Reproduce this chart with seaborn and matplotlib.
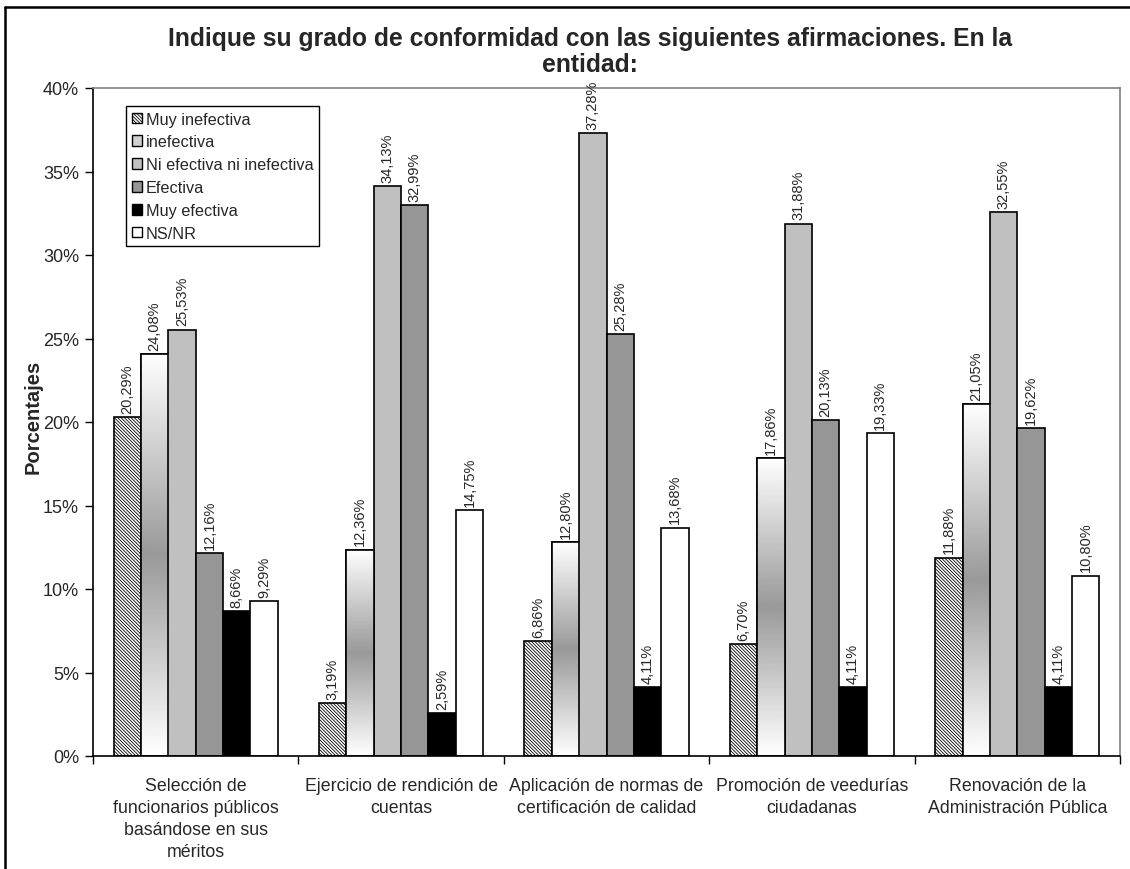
import numpy as np
import pandas as pd
import seaborn as sns
import matplotlib.pyplot as plt
from matplotlib.patches import Patch, Rectangle
from matplotlib.lines import Line2D

# data
categories = [
    "Selección de\nfuncionarios públicos\nbasándose en sus\nméritos",
    "Ejercicio de rendición de\ncuentas",
    "Aplicación de normas de\ncertificación de calidad",
    "Promoción de veedurías\nciudadanas",
    "Renovación de la\nAdministración Pública",
]
series = ["Muy inefectiva", "inefectiva", "Ni efectiva ni inefectiva",
          "Efectiva", "Muy efectiva", "NS/NR"]
muy_inefectiva = [20.29, 3.19, 6.86, 6.70, 11.88]
inefectiva = [24.08, 12.36, 12.80, 17.86, 21.05]
ni_ni = [25.53, 34.13, 37.28, 31.88, 32.55]
efectiva = [12.16, 32.99, 25.28, 20.13, 19.62]
muy_efectiva = [8.66, 2.59, 4.11, 4.11, 4.11]
ns_nr = [9.29, 14.75, 13.68, 19.33, 10.80]
title = "Indique su grado de conformidad con las siguientes afirmaciones. En la\nentidad:"
yticks = [0, 5, 10, 15, 20, 25, 30, 35, 40]

colors = ["#e0e0e0", "#ffffff", "#c0c0c0", "#969696", "#000000", "#ffffff"]
HATCH = "\\" * 10

vals = [muy_inefectiva, inefectiva, ni_ni, efectiva, muy_efectiva, ns_nr]
df = pd.DataFrame({
    "cat": list(range(len(categories))) * len(series),
    "serie": np.repeat(series, len(categories)),
    "valor": np.concatenate(vals),
})

sns.set_style("white")
plt.rcParams['font.family'] = ['Liberation Sans', 'DejaVu Sans']
plt.rcParams['hatch.linewidth'] = 0.6

fig = plt.figure(figsize=(11.3, 8.7), dpi=100)
ax = fig.add_axes([93/1130, 1-757/870, (1120-93)/1130, (757-89)/870])

sns.barplot(data=df, x="cat", y="valor", hue="serie", hue_order=series,
            palette=colors, saturation=1, width=0.8, edgecolor="black",
            linewidth=1.2, legend=False, ax=ax)

# hatch for first series
for bar in ax.containers[0]:
    bar.set_facecolor("white")
    bar.set_hatch(HATCH)

# vertical gradient white - gray - white for "inefectiva"
grad = np.abs(np.linspace(-1, 1, 256))[:, None]
for bar in ax.containers[1]:
    x0, y0 = bar.get_x(), bar.get_y()
    w, h = bar.get_width(), bar.get_height()
    im = ax.imshow(grad, cmap="gray", vmin=-1.5, vmax=1.0, aspect="auto",
                   extent=(x0, x0 + w, y0, y0 + h), origin="lower",
                   zorder=bar.get_zorder() + 0.1, interpolation="bilinear")
    im.set_clip_path(bar)
    ax.add_patch(Rectangle((x0, y0), w, h, fill=False, edgecolor="black",
                           linewidth=1.2, zorder=bar.get_zorder() + 0.2))
ax.set_ylim(0, 40)
ax.set_xlim(-0.5, len(categories) - 0.5)

for cont in ax.containers:
    labs = [f"{v:.2f}%".replace(".", ",") for v in cont.datavalues]
    ax.bar_label(cont, labels=labs, rotation=90, padding=3, fontsize=10.5)

ax.set_yticks(yticks)
ax.set_yticklabels([f"{t}%" for t in yticks], fontsize=13)
ax.set_xticks(range(len(categories)))
ax.set_xticklabels(categories, fontsize=12.8)
for t in ax.get_xticklabels():
    t.set_linespacing(1.4)
ax.set_xticks(np.arange(-0.5, len(categories)), minor=True)
ax.tick_params(axis="x", which="major", length=0, pad=15)
ax.tick_params(axis="x", which="minor", length=6, width=1, direction="out",
               color="black", bottom=True)
ax.tick_params(axis="y", length=6, width=1, direction="out", color="black",
               left=True, pad=4)
ax.set_xlabel("")
ax.set_ylabel("")

for s in ["left", "bottom"]:
    ax.spines[s].set_color("black")
    ax.spines[s].set_linewidth(1.2)
for s in ["top", "right"]:
    ax.spines[s].set_color("#808080")
    ax.spines[s].set_linewidth(1.2)

handles = [Patch(facecolor="white", edgecolor="black", hatch=HATCH),
           Patch(facecolor="#d0d0d0", edgecolor="black"),
           Patch(facecolor=colors[2], edgecolor="black"),
           Patch(facecolor=colors[3], edgecolor="black"),
           Patch(facecolor=colors[4], edgecolor="black"),
           Patch(facecolor=colors[5], edgecolor="black")]
leg = ax.legend(handles, series, loc="upper left",
                bbox_to_anchor=(126/1130, 1-107/870), bbox_transform=fig.transFigure,
                fontsize=11.7, frameon=True, fancybox=False, edgecolor="black",
                framealpha=1, borderaxespad=0, handlelength=0.65, handleheight=0.65,
                handletextpad=0.2, labelspacing=0.48, borderpad=0.35)
leg.get_frame().set_linewidth(1.0)

fig.text(590/1130, 1-27/870, title, ha="center", va="top", fontsize=17.8,
         fontweight="bold", linespacing=1.08)
fig.text(33/1130, 1-417/870, "Porcentajes", rotation=90, ha="center",
         va="center", fontsize=14.5, fontweight="bold")

# outer chart frame
fig.add_artist(Line2D([5/1130, 5/1130], [0, 1-8/870], color="black", linewidth=1.8,
                      transform=fig.transFigure))
fig.add_artist(Line2D([5/1130, 1], [1-8/870, 1-8/870], color="black", linewidth=1.8,
                      transform=fig.transFigure))

fig.savefig("out.png", dpi=100)
